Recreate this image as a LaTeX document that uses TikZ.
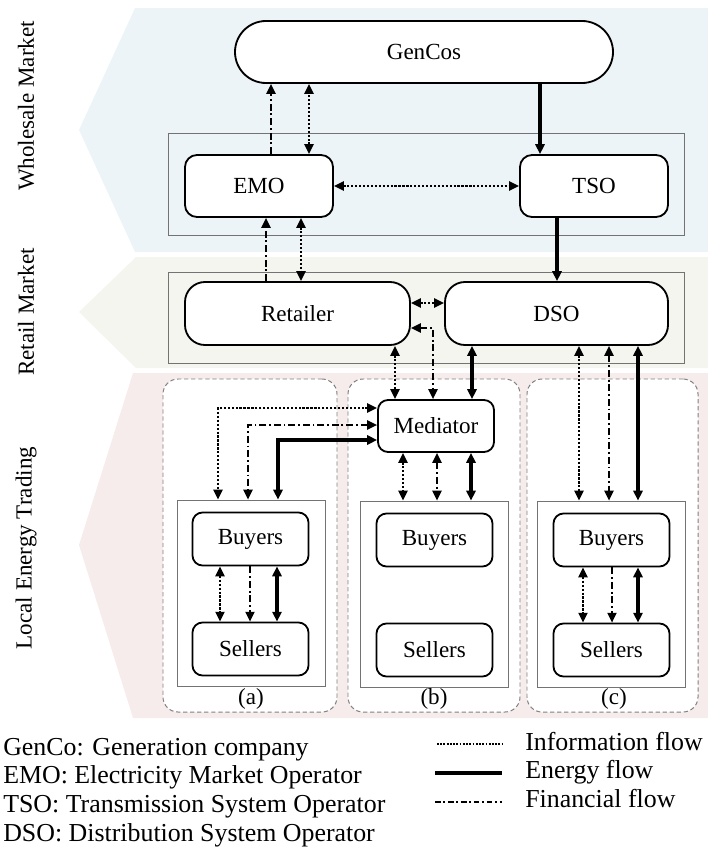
\documentclass[tikz,border=0pt]{standalone}
\usepackage{fontspec}
\setmainfont{Liberation Serif}
\usetikzlibrary{arrows.meta}

\definecolor{wholeblue}{RGB}{237,244,248}
\definecolor{retailbeige}{RGB}{244,245,238}
\definecolor{localpink}{RGB}{247,236,236}
\def\px{0.025cm}
\newcommand\boxfont{\fontsize{16.4pt}{19pt}\selectfont}
\newcommand\legfont{\fontsize{18.4pt}{21pt}\selectfont}

\tikzset{
  box/.style={draw,line width=1.3pt,fill=white,inner sep=0pt,font=\boxfont,
    minimum width=148*\px,minimum height=62*\px,rounded corners=0.3cm},
  smallbox/.style={box,minimum width=116*\px,minimum height=53*\px,rounded corners=0.25cm},
  frame/.style={draw=black!55,line width=0.6pt},
  grp/.style={draw=black!50,line width=0.7pt,dash pattern=on 3pt off 2pt,fill=white,
    rounded corners=0.375cm,inner sep=0pt},
  info/.style={line width=1.3pt,dash pattern=on 1.6pt off 1.2pt},
  fin/.style={line width=1.1pt,dash pattern=on 5pt off 2pt on 1.3pt off 2pt},
  energy/.style={line width=2.2pt},
}

\begin{document}
\begin{tikzpicture}[x=\px,y=-\px,>={Triangle[length=7pt,width=6.5pt]}]
\useasboundingbox (0,0) rectangle (708,848);
% market bands
\fill[wholeblue] (135,8)--(79,130)--(135,252)--(708,252)--(708,8)--cycle;
\fill[retailbeige] (136,257)--(79,312)--(136,368)--(708,368)--(708,257)--cycle;
\fill[localpink] (133,373)--(79,545)--(133,718)--(708,718)--(708,373)--cycle;
\node[rotate=90,font=\boxfont] (wlab) at (26,106) {Wholesale Market};
\node[rotate=90,font=\boxfont] (rlab) at (26,312) {Retail Market};
\node[rotate=90,font=\boxfont] (llab) at (26,548) {Local Energy Trading};
%
% wholesale market
\draw[frame] (168,133) rectangle (684,235);
\node[box,minimum width=378*\px,rounded corners=0.775cm] (gen) at (424,52) {GenCos};
\node[box] (emo) at (259,186) {EMO};
\node[box] (tso) at (594,186) {TSO};
\draw[fin,->] (emo.north -| 271,0) -- (gen.south -| 271,0);
\draw[info,<->] (emo.north -| 309,0) -- (gen.south -| 309,0);
\draw[energy,->] (gen.south -| 540,0) -- (tso.north -| 540,0);
\draw[info,<->] (emo.east) -- (tso.west);
%
% retail market
\draw[frame] (168,272) rectangle (684,363);
\node[box,minimum width=225*\px,minimum height=63*\px,rounded corners=0.5cm] (ret) at (297.5,313.5) {Retailer};
\node[box,minimum width=223*\px,minimum height=63*\px,rounded corners=0.5cm] (dso) at (556.5,313.5) {DSO};
\draw[fin,->] (ret.north -| 266,0) -- (emo.south -| 266,0);
\draw[info,<->] (emo.south -| 301,0) -- (ret.north -| 301,0);
\draw[energy,->] (tso.south -| 557,0) -- (dso.north -| 557,0);
\draw[info,<->] (ret.east |- 0,303) -- (dso.west |- 0,303);
%
% local energy trading
\node[grp,minimum width=174*\px,minimum height=333*\px] (ga) at (250,545.5) {};
\node[grp,minimum width=172*\px,minimum height=333*\px] (gb) at (434,545.5) {};
\node[grp,minimum width=171*\px,minimum height=333*\px] (gc) at (612.5,545.5) {};
\node[frame,fill=white,minimum width=148*\px,minimum height=186*\px] (pa) at (251,593) {};
\node[frame,fill=white,minimum width=148*\px,minimum height=186*\px] (pb) at (434.5,594) {};
\node[frame,fill=white,minimum width=148*\px,minimum height=186*\px] (pc) at (611.5,594) {};
\node[smallbox] (bua) at (250.5,539) {Buyers};
\node[smallbox] (sea) at (250.5,649) {Sellers};
\node[smallbox] (bub) at (434.5,540) {Buyers};
\node[smallbox] (seb) at (434.5,650) {Sellers};
\node[smallbox] (buc) at (611.5,540) {Buyers};
\node[smallbox] (sec) at (611.5,650) {Sellers};
\node[font=\boxfont] (laba) at (251,699) {(a)};
\node[font=\boxfont] (labb) at (434,699) {(b)};
\node[font=\boxfont] (labc) at (614,699) {(c)};
\node[smallbox,minimum height=52*\px,rounded corners=0.25cm] (med) at (436,426) {Mediator};
%
\draw[info,<->] (ret.south -| 395,0) -- (med.north -| 395,0);
\draw[fin,<->] (ret.east |- 0,328) -| (med.north -| 433,0);
\draw[energy,<->] (dso.south -| 472,0) -- (med.north -| 472,0);
% (a)
\draw[info,<->] (med.west |- 0,408) -| (pa.north -| 218,0);
\draw[fin,<->] (med.west |- 0,425) -| (pa.north -| 248,0);
\draw[energy,<->] (med.west |- 0,440) -| (pa.north -| 278,0);
\draw[info,<->] (bua.south -| 220,0) -- (sea.north -| 220,0);
\draw[fin,->] (bua.south -| 250,0) -- (sea.north -| 250,0);
\draw[energy,<->] (bua.south -| 277,0) -- (sea.north -| 277,0);
% (b)
\draw[info,<->] (med.south -| 403,0) -- (pb.north -| 403,0);
\draw[fin,<->] (med.south -| 437,0) -- (pb.north -| 437,0);
\draw[energy,<->] (med.south -| 471,0) -- (pb.north -| 471,0);
% (c)
\draw[info,<->] (dso.south -| 579,0) -- (pc.north -| 579,0);
\draw[fin,<->] (dso.south -| 609,0) -- (pc.north -| 609,0);
\draw[energy,<->] (dso.south -| 638,0) -- (pc.north -| 638,0);
\draw[info,<->] (buc.south -| 583,0) -- (sec.north -| 583,0);
\draw[fin,->] (buc.south -| 612,0) -- (sec.north -| 612,0);
\draw[energy,<->] (buc.south -| 638,0) -- (sec.north -| 638,0);
%
% legend
\node[font=\legfont,anchor=base west,inner sep=0pt] (lg1) at (3,755) {GenCo: Generation company};
\node[font=\legfont,anchor=base west,inner sep=0pt] (lg2) at (3,783) {EMO: Electricity Market Operator};
\node[font=\legfont,anchor=base west,inner sep=0pt] (lg3) at (3,812) {TSO: Transmission System Operator};
\node[font=\legfont,anchor=base west,inner sep=0pt] (lg4) at (3,841) {DSO: Distribution System Operator};
\draw[line width=0.8pt,dash pattern=on 1.3pt off 1pt] (437,744) -- (502,744);
\draw[energy] (435,773) -- (502,773);
\draw[line width=0.9pt,dash pattern=on 4pt off 2pt on 1.2pt off 2pt] (435,802) -- (502,802);
\node[font=\legfont,anchor=base west,inner sep=0pt] (li) at (525,750) {Information flow};
\node[font=\legfont,anchor=base west,inner sep=0pt] (le) at (525,778) {Energy flow};
\node[font=\legfont,anchor=base west,inner sep=0pt] (lf) at (525,807) {Financial flow};
\end{tikzpicture}
\end{document}
